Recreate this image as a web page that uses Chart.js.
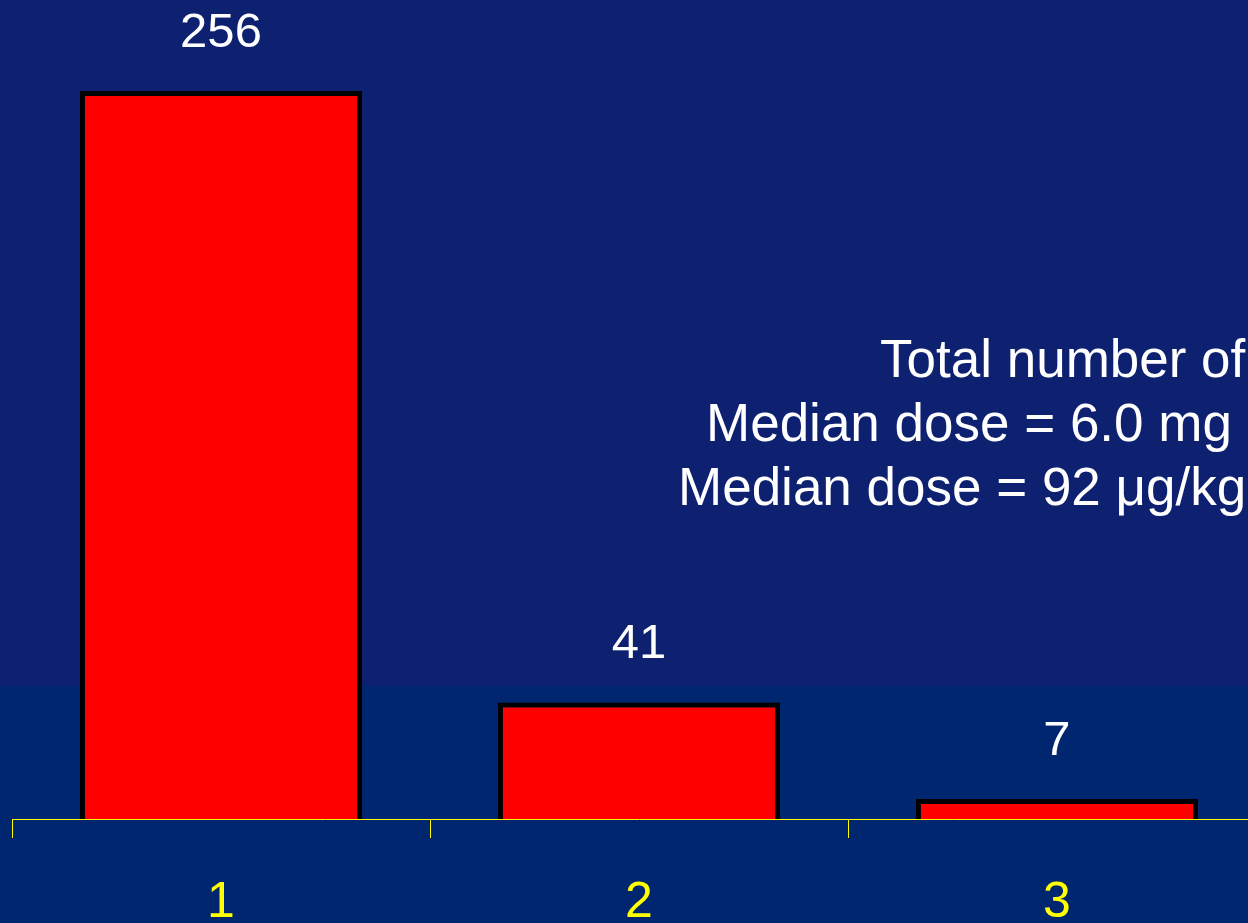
<!DOCTYPE html>
<html>
<head>
<meta charset="utf-8">
<script src="https://cdn.jsdelivr.net/npm/chart.js@4"></script>
<style>
  html, body { margin: 0; padding: 0; overflow: hidden; background: #0e2171; }
  #wrap { position: absolute; left: 0; top: 0; width: 1266px; height: 923px; }
</style>
</head>
<body>
<div id="wrap"><canvas id="doses"></canvas></div>
<script>
const categories = ["1", "2", "3"];
const patientCounts = [256, 41, 7];
const noteLines = ["Total number of", "Median dose = 6.0 mg", "Median dose = 92 \u03bcg/kg"];

const ctx = document.getElementById("doses");

// two-tone slide background
const backdrop = {
  id: "backdrop",
  beforeDraw(chart) {
    const c = chart.ctx;
    c.save();
    c.fillStyle = "#0e2171";
    c.fillRect(0, 0, chart.width, chart.height);
    c.fillStyle = "#00266f";
    c.fillRect(0, 686, chart.width, chart.height - 686);
    c.restore();
  },
};

// counts above each bar + the note block on the right
const labels = {
  id: "labels",
  afterDatasetsDraw(chart) {
    const c = chart.ctx;
    c.save();
    c.fillStyle = "#ffffff";
    c.font = "49px 'Liberation Sans', Arial, sans-serif";
    c.textAlign = "center";
    c.textBaseline = "alphabetic";
    chart.getDatasetMeta(0).data.forEach((bar, i) => {
      c.fillText(String(patientCounts[i]), bar.x, bar.y - 44);
    });
    c.font = "53px 'Liberation Sans', Arial, sans-serif";
    c.textAlign = "left";
    const xs = [880, 706, 678];
    noteLines.forEach((line, i) => {
      c.fillText(line, xs[i], 377 + i * 64);
    });
    c.restore();
  },
};

new Chart(ctx, {
  type: "bar",
  data: {
    labels: categories,
    datasets: [
      {
        data: patientCounts,
        backgroundColor: "#ff0000",
        borderColor: "#000000",
        borderWidth: 5,
        borderSkipped: "start",
        categoryPercentage: 1,
        barPercentage: 0.675,
      },
    ],
  },
  options: {
    responsive: true,
    maintainAspectRatio: false,
    animation: false,
    layout: { padding: { left: 12, right: 0, top: 0, bottom: 0 } },
    plugins: {
      legend: { display: false },
      tooltip: { enabled: false },
    },
    scales: {
      x: {
        grid: {
          display: true,
          drawOnChartArea: false,
          tickLength: 19,
          color: "#ffff00",
          lineWidth: 1,
        },
        border: { display: true, color: "#ffff00", width: 1 },
        ticks: {
          color: "#ffff00",
          font: { family: "'Liberation Sans', Arial, sans-serif", size: 50 },
          padding: 35,
        },
        afterFit(scale) {
          scale.height = 104;
        },
      },
      y: {
        display: false,
        min: 0,
        max: 288,
      },
    },
  },
  plugins: [backdrop, labels],
});
</script>
</body>
</html>
